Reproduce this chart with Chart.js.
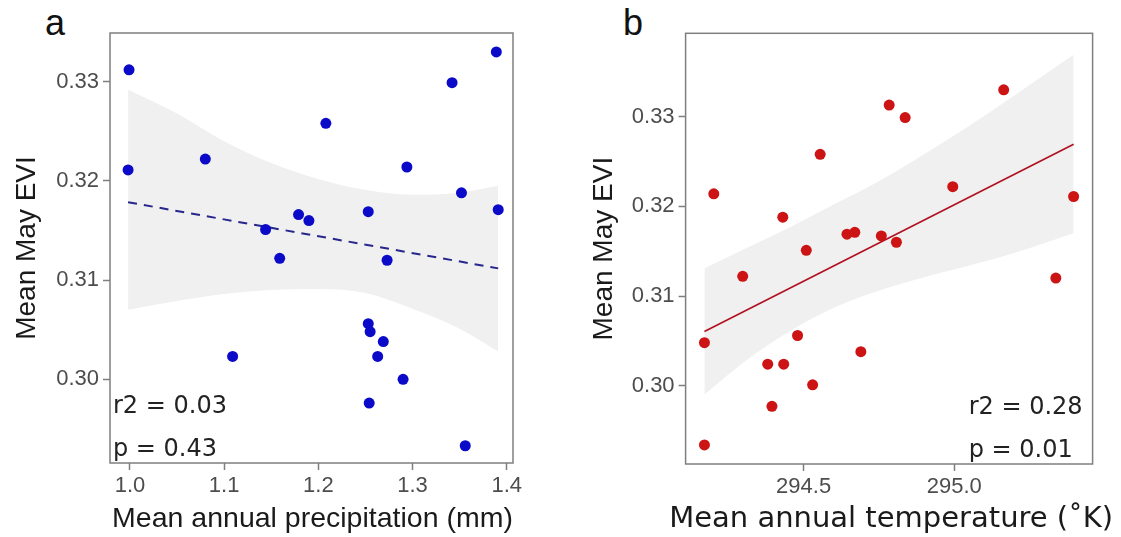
<!DOCTYPE html>
<html>
<head>
<meta charset="utf-8">
<script src="https://cdn.jsdelivr.net/npm/chart.js@4.4.0/dist/chart.umd.min.js"></script>
<style>
  body { margin: 0; background: #fff; }
  #wrap { position: relative; width: 1121px; height: 537px; }
  canvas { position: absolute; top: 0; }
  .tag { position: absolute; font: 36px/1 "Liberation Sans", Arial, sans-serif; color: #111; }
</style>
</head>
<body>
<div id="wrap">
  <div class="tag" style="left:45px;top:5px">a</div>
  <div class="tag" style="left:623px;top:5px">b</div>
  <canvas id="precipChart" width="580" height="537" style="left:0"></canvas>
  <canvas id="tempChart" width="541" height="537" style="left:580px"></canvas>
</div>
<script>
// Site values: mean annual precipitation (mm) and mean May EVI
const precipX = [0.999, 0.998, 1.080, 1.208, 1.342, 1.389, 1.294, 1.352, 1.391, 1.253, 1.179, 1.190,
  1.144, 1.159, 1.273, 1.109, 1.253, 1.255, 1.269, 1.263, 1.290, 1.254, 1.356]
const precipEvi = [0.3312, 0.3211, 0.3222, 0.3258, 0.3299, 0.3330, 0.3214, 0.3188, 0.3171, 0.3169, 0.3166, 0.3160,
  0.3151, 0.3122, 0.3120, 0.3023, 0.3056, 0.3048, 0.3038, 0.3023, 0.3000, 0.2976, 0.2933]

// Linear fit and its confidence band
const precipFitX = [0.998, 1.391]
const precipFitY = [0.31785, 0.31118]
const precipBandX = [0.998, 1.05, 1.10, 1.15, 1.20, 1.25, 1.30, 1.35, 1.391]
const precipBandHi = [0.3292, 0.3268, 0.3240, 0.3218, 0.3202, 0.3191, 0.3186, 0.3188, 0.3195]
const precipBandLo = [0.3070, 0.3079, 0.3086, 0.3090, 0.3091, 0.3087, 0.3071, 0.3051, 0.3028]

// Site values: mean annual temperature (K) and mean May EVI
const tempX = [295.164, 294.784, 294.837, 294.555, 294.202, 294.995, 295.396, 294.431, 294.644, 294.670, 294.758, 294.808,
  294.509, 294.298, 295.337, 294.171, 294.480, 294.381, 294.434, 294.690, 294.530, 294.395, 294.171]
const tempEvi = [0.3330, 0.3313, 0.3299, 0.3258, 0.3214, 0.3222, 0.3211, 0.3188, 0.3169, 0.3171, 0.3167, 0.3160,
  0.3151, 0.3122, 0.3120, 0.3048, 0.3056, 0.3024, 0.3024, 0.3038, 0.3001, 0.2977, 0.2934]

const tempFitX = [294.171, 295.396]
const tempFitY = [0.30604, 0.32692]
const tempBandX = [294.171, 294.3, 294.45, 294.6, 294.75, 294.9, 295.05, 295.2, 295.396]
const tempBandHi = [0.3131, 0.3152, 0.3176, 0.3202, 0.3228, 0.3258, 0.3290, 0.3324, 0.3369]
const tempBandLo = [0.2990, 0.3026, 0.3060, 0.3087, 0.3106, 0.3121, 0.3134, 0.3148, 0.3170]

// Tick labels
const precipTicks = [1.0, 1.1, 1.2, 1.3, 1.4]
const tempTicks = [294.5, 295.0]
const eviTicks = [0.30, 0.31, 0.32, 0.33]

Chart.defaults.font.family = '"Liberation Sans", Arial, sans-serif'
Chart.defaults.color = '#4d4d4d'

const toPoints = (xs, ys) => xs.map((x, i) => ({ x, y: ys[i] }))

// Box around the plot area
const framePlugin = {
  id: 'frame',
  beforeDatasetsDraw(chart) {
    const { ctx, chartArea: a } = chart
    ctx.save()
    ctx.strokeStyle = '#7f7f7f'
    ctx.lineWidth = 1.5
    ctx.strokeRect(a.left, a.top, a.right - a.left, a.bottom - a.top)
    ctx.restore()
  }
}

// x axis title, allowed to run a little past the plot box
const xTitlePlugin = {
  id: 'xTitle',
  afterDraw(chart, args, opts) {
    const { ctx, chartArea: a } = chart
    ctx.save()
    ctx.font = opts.font
    ctx.fillStyle = '#1a1a1a'
    ctx.textAlign = 'center'
    ctx.textBaseline = 'alphabetic'
    ctx.fillText(opts.text, (a.left + a.right) / 2 + opts.shift, chart.height - 10)
    ctx.restore()
  }
}

// r2 / p text in a bottom corner
const statsPlugin = {
  id: 'stats',
  afterDatasetsDraw(chart, args, opts) {
    const { ctx, chartArea: a } = chart
    ctx.save()
    ctx.font = '24px "DejaVu Sans", Verdana, sans-serif'
    ctx.fillStyle = '#222'
    ctx.textBaseline = 'alphabetic'
    const x = opts.side === 'left' ? a.left + 3 : a.right - 10 - ctx.measureText(opts.lines[0]).width
    ctx.fillText(opts.lines[0], x, a.bottom - 50)
    ctx.fillText(opts.lines[1], x, a.bottom - 7)
    ctx.restore()
  }
}

function scatterPanel(id, cfg) {
  return new Chart(document.getElementById(id), {
    type: 'scatter',
    data: {
      datasets: [
        { data: toPoints(cfg.x, cfg.y), order: 0, pointRadius: 5.5, pointBorderWidth: 0, pointBackgroundColor: cfg.color },
        {
          data: toPoints(cfg.fitX, cfg.fitY), order: 1, showLine: true, pointRadius: 0,
          borderColor: cfg.lineColor, borderWidth: cfg.lineWidth, borderDash: cfg.dash
        },
        {
          data: toPoints(cfg.bandX, cfg.bandLo), order: 2, showLine: true, pointRadius: 0,
          borderColor: 'transparent', borderWidth: 0, cubicInterpolationMode: 'monotone'
        },
        {
          data: toPoints(cfg.bandX, cfg.bandHi), order: 2, showLine: true, pointRadius: 0,
          borderColor: 'transparent', borderWidth: 0, cubicInterpolationMode: 'monotone',
          fill: '-1', backgroundColor: '#f0f0f0'
        }
      ]
    },
    options: {
      responsive: false,
      animation: false,
      devicePixelRatio: 1,
      layout: { padding: { left: 0, top: cfg.top, right: cfg.right, bottom: 0 } },
      plugins: {
        legend: { display: false },
        tooltip: { enabled: false },
        stats: { lines: cfg.stats, side: cfg.statsSide },
        xTitle: { text: cfg.xTitle, font: cfg.xTitleFont, shift: cfg.xTitleShift }
      },
      scales: {
        x: {
          type: 'linear', min: cfg.xMin, max: cfg.xMax,
          afterBuildTicks: s => { s.ticks = cfg.xTicks.map(v => ({ value: v })) },
          afterFit: s => { s.height = cfg.xAxisHeight },
          border: { display: false },
          grid: { drawOnChartArea: false, tickLength: 7, tickColor: '#7f7f7f', tickWidth: 1.5 },
          ticks: { padding: 3, font: { size: 22 }, maxRotation: 0, autoSkip: false, callback: v => v.toFixed(1) }
        },
        y: {
          type: 'linear', min: cfg.yMin, max: cfg.yMax,
          afterBuildTicks: s => { s.ticks = eviTicks.map(v => ({ value: v })) },
          afterFit: s => { s.width = cfg.yAxisWidth },
          border: { display: false },
          grid: { drawOnChartArea: false, tickLength: 7, tickColor: '#7f7f7f', tickWidth: 1.5 },
          ticks: { padding: 4, font: { size: 22 }, autoSkip: false, callback: v => v.toFixed(2) },
          title: { display: true, text: 'Mean May EVI', color: '#1a1a1a', font: { size: 28 }, padding: { top: cfg.yTitlePad, bottom: 0 } }
        }
      }
    },
    plugins: [framePlugin, statsPlugin, xTitlePlugin]
  })
}

// a: precipitation
scatterPanel('precipChart', {
  x: precipX, y: precipEvi, color: '#0a0ac8',
  fitX: precipFitX, fitY: precipFitY, lineColor: '#26268c', lineWidth: 2, dash: [9, 7],
  bandX: precipBandX, bandHi: precipBandHi, bandLo: precipBandLo,
  xMin: 0.9788, xMax: 1.4067, yMin: 0.29156, yMax: 0.33491, xTicks: precipTicks,
  xTitle: 'Mean annual precipitation (mm)', xTitleFont: '28.5px "Liberation Sans", Arial, sans-serif', xTitleShift: 1,
  top: 33, right: 67, xAxisHeight: 74, yAxisWidth: 110, yTitlePad: 10,
  stats: ['r2 = 0.03', 'p = 0.43'], statsSide: 'left'
})

// b: temperature
scatterPanel('tempChart', {
  x: tempX, y: tempEvi, color: '#cc1414',
  fitX: tempFitX, fitY: tempFitY, lineColor: '#b01020', lineWidth: 1.6, dash: [],
  bandX: tempBandX, bandHi: tempBandHi, bandLo: tempBandLo,
  xMin: 294.1085, xMax: 295.459, yMin: 0.29127, yMax: 0.3393, xTicks: tempTicks,
  xTitle: 'Mean annual temperature (˚K)', xTitleFont: '29px "DejaVu Sans", Verdana, sans-serif', xTitleShift: 2,
  top: 33.3, right: 28.4, xAxisHeight: 73, yAxisWidth: 105.6, yTitlePad: 7,
  stats: ['r2 = 0.28', 'p = 0.01'], statsSide: 'right'
})
</script>
</body>
</html>
